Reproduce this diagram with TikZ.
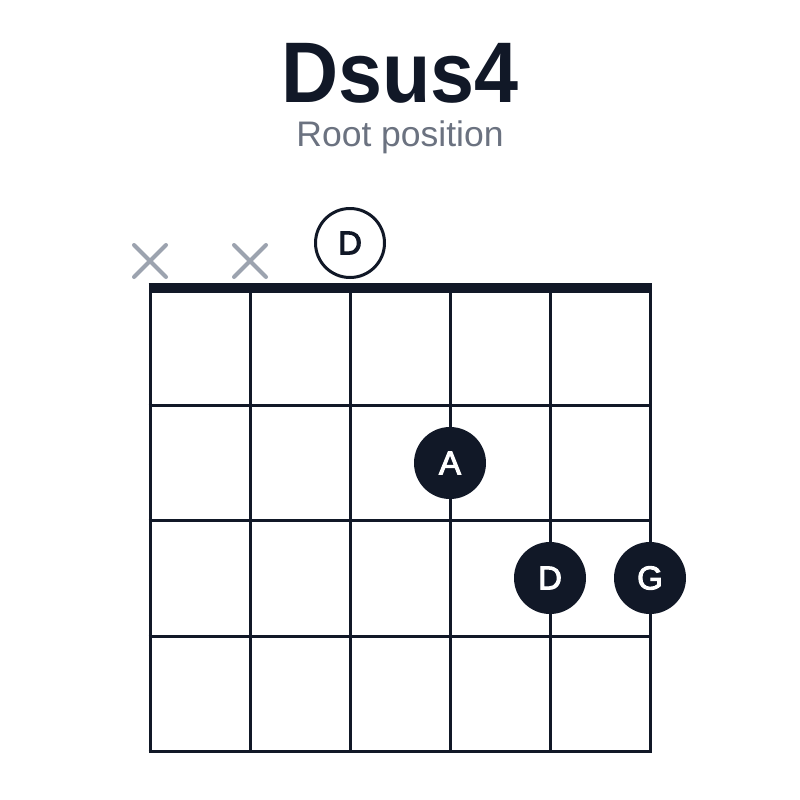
\documentclass[tikz,border=0pt]{standalone}
\usepackage{fontspec}
\setmainfont{Liberation Sans}
\newfontfamily\titlefont[FakeStretch=0.92]{Liberation Sans}
\newfontfamily\notefont[FakeBold=3]{Liberation Sans}
\definecolor{ink}{HTML}{111827}
\definecolor{subgray}{HTML}{6B7280}
\definecolor{xgray}{HTML}{9CA3AF}
\begin{document}
\begin{tikzpicture}[x=1pt,y=-1pt,
  gridline/.style={draw=ink,line width=3pt},
  nutline/.style={draw=ink,line width=10pt},
  mutemark/.style={draw=xgray,line width=4pt,line cap=round},
  fingerdot/.style={circle,fill=ink,minimum size=72pt,inner sep=0pt,text=white,font=\notefont\fontsize{33}{33}\selectfont},
  opendot/.style={circle,draw=ink,line width=3pt,fill=white,minimum size=69pt,inner sep=0pt,text=ink,font=\notefont\fontsize{33}{33}\selectfont}]
\useasboundingbox[fill=white] (0,0) rectangle (800,800);
% title
\node[font=\titlefont\fontsize{86}{86}\selectfont\bfseries,text=ink,anchor=base] (title) at (400,102) {Dsus4};
\node[font=\fontsize{35.5}{35.5}\selectfont,text=subgray,anchor=base] (subtitle) at (400,146) {Root position};
% strings
\foreach \x in {150,250,350,450,550,650} \draw[gridline] (\x,287) -- (\x,751);
% frets
\foreach \y in {405,520,636,751} \draw[gridline] (148.5,\y) -- (651.5,\y);
% nut
\draw[nutline] (148.5,287.5) -- (651.5,287.5);
% muted strings
\foreach \x in {150,250} {
  \draw[mutemark] (\x-16,245) -- (\x+16,277);
  \draw[mutemark] (\x-16,277) -- (\x+16,245);
}
% open string
\node[opendot] (open) at (350,243) {D};
% fingers
\node[fingerdot] (fa) at (450,463) {A};
\node[fingerdot] (fd) at (550,578) {D};
\node[fingerdot] (fg) at (650,578) {G};
\end{tikzpicture}
\end{document}
